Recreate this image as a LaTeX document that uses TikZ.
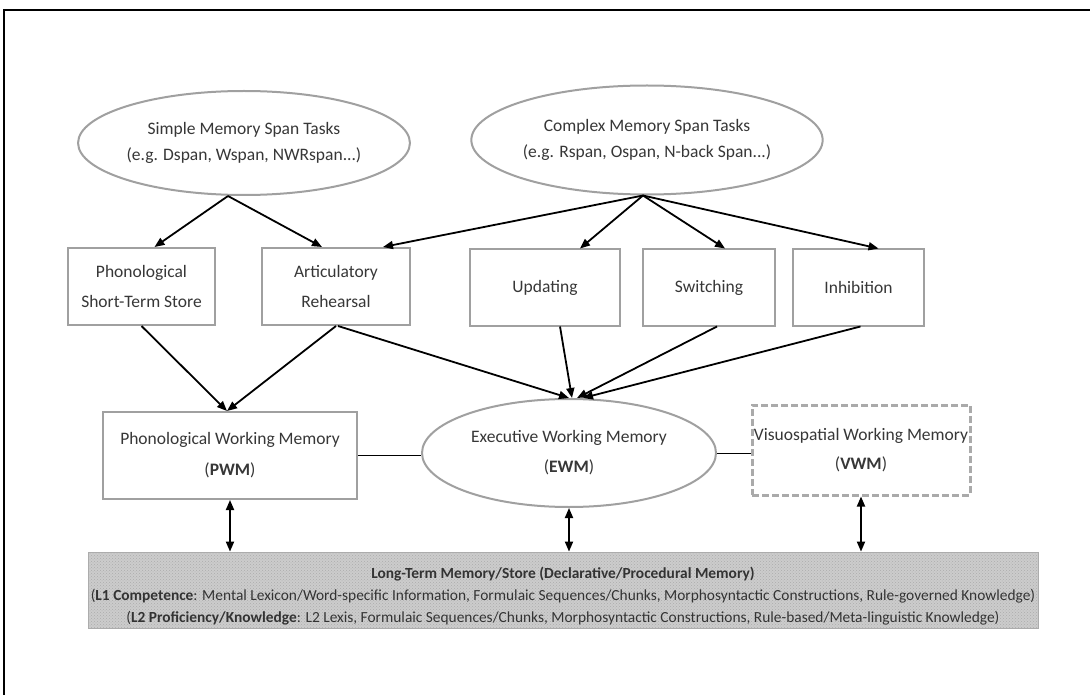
\documentclass[tikz,border=0pt]{standalone}
\usepackage{fontspec}
\setmainfont{Carlito}
\usetikzlibrary{shapes.geometric,arrows.meta,patterns}
\definecolor{bordergray}{RGB}{160,160,160}
\definecolor{txtgray}{RGB}{55,55,55}
\definecolor{ltmgray}{RGB}{204,204,204}
\begin{document}
\begin{tikzpicture}[x=1pt,y=-1pt,
  every node/.style={text=txtgray},
  oval/.style={ellipse, draw=bordergray, line width=2pt, inner sep=0pt, align=center,
    font=\fontsize{17.5}{26}\selectfont},
  taskbox/.style={rectangle, draw=bordergray, line width=2pt, inner sep=0pt, align=center,
    font=\fontsize{17.5}{30}\selectfont},
  wmbox/.style={rectangle, draw=bordergray, line width=2pt, inner sep=0pt, align=center,
    font=\fontsize{17.5}{31}\selectfont},
  dashbox/.style={rectangle, draw=bordergray!90, line width=3pt, dash pattern=on 7pt off 3pt,
    inner sep=0pt, align=center, font=\fontsize{17.5}{29}\selectfont},
  arr/.style={-{Triangle[length=10pt,width=8pt]}, line width=1.8pt, black},
  biarr/.style={{Triangle[length=10pt,width=8pt]}-{Triangle[length=10pt,width=8pt]}, line width=1.8pt, black},
  link/.style={line width=1pt, black}]
\useasboundingbox (0,0) rectangle (1090,695);
\fill[white] (0,0) rectangle (1090,695);
% frame (top and left)
\draw[line width=2.5pt, black] (4,695) -- (4,10) -- (1090,10);

% task ellipses
\node[oval, minimum width=288pt, minimum height=104pt] (S) at (244,143)
  {Simple Memory Span Tasks\\(e.g. Dspan, Wspan, NWRspan...)};
\node[oval, minimum width=311pt, minimum height=109pt] (C) at (647,140)
  {Complex Memory Span Tasks\\(e.g. Rspan, Ospan, N-back Span...)};

% component boxes
\node[taskbox, minimum width=147pt, minimum height=77pt] (PSTS) at (141.5,286.5)
  {Phonological\\Short-Term Store};
\node[taskbox, minimum width=148pt, minimum height=77pt] (AR) at (336,286.5)
  {Articulatory\\Rehearsal};
\node[taskbox, minimum width=150pt, minimum height=76pt] (UPD) at (545,287.5) {Updating};
\node[taskbox, minimum width=132pt, minimum height=76pt] (SW) at (709,287.5) {Switching};
\node[taskbox, minimum width=131pt, minimum height=76pt] (INH) at (858.5,287.5) {Inhibition};

% working memory components
\node[wmbox, minimum width=254pt, minimum height=87pt] (PWM) at (230,455.5)
  {Phonological Working Memory\\(\textbf{PWM})};
\node[oval, minimum width=294pt, minimum height=108pt, font=\fontsize{17.5}{30}\selectfont] (EWM) at (569,453)
  {Executive Working Memory\\(\textbf{EWM})};
\node[dashbox, minimum width=218pt, minimum height=90pt] (VWM) at (861,450)
  {Visuospatial Working Memory\\(\textbf{VWM})};

% long-term memory
\node[rectangle, draw=gray!65, line width=0.8pt, preaction={fill=ltmgray},
  pattern=crosshatch dots, pattern color=gray!65,
  minimum width=950pt, minimum height=76pt] (LTM) at (563,590) {};
\node[align=center, text=black!80, font=\fontsize{15.4}{22}\selectfont] (LTMT) at (563,596)
  {\textbf{Long-Term Memory/Store (Declarative/Procedural Memory)}\\
   (\textbf{L1 Competence}: Mental Lexicon/Word-specific Information, Formulaic Sequences/Chunks, Morphosyntactic Constructions, Rule-governed Knowledge)\\
   (\textbf{L2 Proficiency/Knowledge}: L2 Lexis, Formulaic Sequences/Chunks, Morphosyntactic Constructions, Rule-based/Meta-linguistic Knowledge)};

% arrows from task ellipses
\draw[arr] ([xshift=-16pt]S.south) -- ([xshift=13pt]PSTS.north);
\draw[arr] ([xshift=-16pt]S.south) -- ([xshift=-14pt]AR.north);
\draw[arr] ([xshift=-4pt]C.south) -- ([xshift=47pt]AR.north);
\draw[arr] ([xshift=-4pt]C.south) -- ([xshift=35pt]UPD.north);
\draw[arr] ([xshift=-4pt]C.south) -- ([xshift=16pt]SW.north);
\draw[arr] ([xshift=-4pt]C.south) -- ([xshift=20pt]INH.north);

% arrows into WM components
\draw[arr] (PSTS.south) -- ([xshift=-3pt]PWM.north);
\draw[arr] (AR.south) -- ([xshift=-3pt]PWM.north);
\draw[arr] ([xshift=2pt]AR.south) -- ([xshift=0pt]EWM.north);
\draw[arr] ([xshift=15pt]UPD.south) -- ([xshift=3pt]EWM.north);
\draw[arr] ([xshift=8pt]SW.south) -- ([xshift=8pt]EWM.north);
\draw[arr] ([xshift=2pt]INH.south) -- ([xshift=14pt]EWM.north);

% links between WM components
\draw[link] (PWM.east) -- (PWM.east -| EWM.west);
\draw[link] (EWM.east) -- (EWM.east -| VWM.west);

% bidirectional arrows to LTM
\draw[biarr] (PWM.south) -- (PWM.south |- LTM.north);
\draw[biarr] (EWM.south) -- (EWM.south |- LTM.north);
\draw[biarr] (VWM.south) -- (VWM.south |- LTM.north);
\end{tikzpicture}
\end{document}
